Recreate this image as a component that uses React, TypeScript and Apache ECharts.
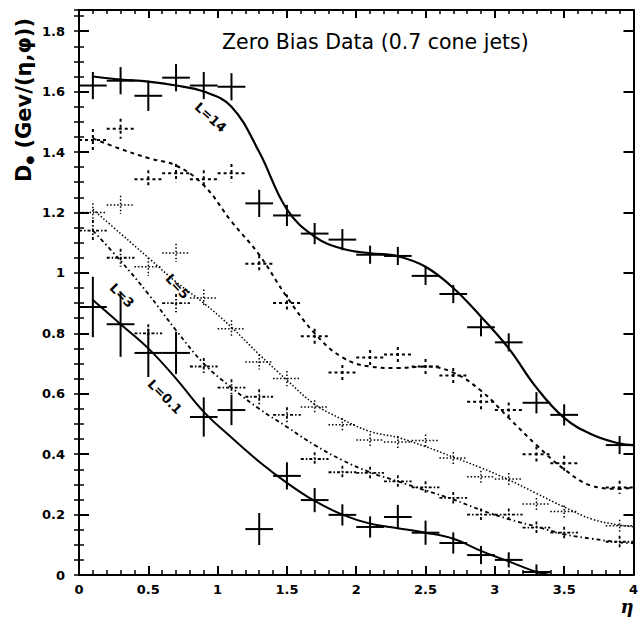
import React, { useEffect, useRef } from "react";
import * as echarts from "echarts";

// ---- data ----
const ETA = [0.1, 0.3, 0.5, 0.7, 0.9, 1.1, 1.3, 1.5, 1.7, 1.9, 2.1, 2.3, 2.5, 2.7, 2.9, 3.1, 3.3, 3.5, 3.9];
const ETA_LOW = [0.1, 0.3, 0.5, 0.7, 0.9, 1.1, 1.3, 1.5, 1.7, 1.9, 2.1, 2.3, 2.5, 2.7, 2.9, 3.1, 3.3];
const ETA_HALF_BIN = 0.1;

const L14_VALUES = [1.62, 1.636, 1.586, 1.646, 1.62, 1.616, 1.23, 1.19, 1.13, 1.11, 1.06, 1.056, 0.99, 0.93, 0.82, 0.77, 0.57, 0.53, 0.43];
const L14_ERRORS = [0.045, 0.045, 0.05, 0.045, 0.045, 0.045, 0.045, 0.035, 0.035, 0.035, 0.03, 0.03, 0.03, 0.03, 0.03, 0.03, 0.035, 0.035, 0.03];

const L10_VALUES = [1.44, 1.477, 1.31, 1.33, 1.31, 1.33, 1.03, 0.9, 0.79, 0.67, 0.72, 0.73, 0.69, 0.66, 0.573, 0.546, 0.4, 0.37, 0.29];
const L10_ERRORS = [0.036, 0.033, 0.03, 0.03, 0.03, 0.03, 0.028, 0.028, 0.025, 0.025, 0.025, 0.025, 0.025, 0.025, 0.025, 0.025, 0.025, 0.025, 0.022];

const L5_VALUES = [1.2, 1.225, 1.02, 1.066, 0.917, 0.815, 0.705, 0.65, 0.556, 0.497, 0.447, 0.44, 0.445, 0.387, 0.325, 0.318, 0.235, 0.21, 0.163];
const L5_ERRORS = [0.03, 0.03, 0.03, 0.03, 0.028, 0.028, 0.025, 0.025, 0.022, 0.022, 0.02, 0.02, 0.02, 0.02, 0.02, 0.02, 0.02, 0.02, 0.02];

const L3_VALUES = [1.14, 1.05, 0.8, 0.9, 0.69, 0.62, 0.59, 0.53, 0.384, 0.34, 0.338, 0.31, 0.29, 0.255, 0.2, 0.2, 0.157, 0.14, 0.11];
const L3_ERRORS = [0.035, 0.03, 0.03, 0.03, 0.028, 0.028, 0.025, 0.025, 0.022, 0.022, 0.02, 0.02, 0.02, 0.02, 0.02, 0.02, 0.02, 0.02, 0.02];

const L01_VALUES = [0.887, 0.83, 0.735, 0.735, 0.523, 0.546, 0.152, 0.328, 0.248, 0.199, 0.159, 0.192, 0.14, 0.106, 0.066, 0.05, 0.01];
const L01_ERRORS = [0.1, 0.108, 0.08, 0.07, 0.065, 0.05, 0.053, 0.045, 0.04, 0.035, 0.035, 0.04, 0.04, 0.035, 0.03, 0.025, 0.025];

// fitted curves
const FIT_ETA = [0.1, 0.3, 0.5, 0.7, 0.9, 1.1, 1.3, 1.5, 1.7, 1.9, 2.1, 2.3, 2.5, 2.7, 2.9, 3.1, 3.3, 3.5, 3.7, 3.9, 4.0];
const FIT_L14 = [1.65, 1.64, 1.633, 1.62, 1.6, 1.55, 1.4, 1.21, 1.12, 1.08, 1.065, 1.055, 1.02, 0.95, 0.855, 0.75, 0.62, 0.52, 0.465, 0.435, 0.43];
const FIT_L10 = [1.445, 1.41, 1.38, 1.355, 1.29, 1.17, 1.06, 0.92, 0.8, 0.72, 0.69, 0.685, 0.69, 0.67, 0.61, 0.52, 0.43, 0.35, 0.295, 0.285, 0.29];
const FIT_L5 = [1.21, 1.13, 1.05, 0.97, 0.9, 0.82, 0.73, 0.645, 0.565, 0.515, 0.475, 0.455, 0.425, 0.39, 0.355, 0.315, 0.27, 0.225, 0.185, 0.165, 0.16];
const FIT_L3 = [1.14, 1.04, 0.93, 0.81, 0.7, 0.62, 0.55, 0.49, 0.43, 0.38, 0.34, 0.31, 0.28, 0.25, 0.215, 0.185, 0.16, 0.135, 0.12, 0.108, 0.105];
const FIT_ETA_LOW = [0.1, 0.3, 0.5, 0.7, 0.9, 1.1, 1.3, 1.5, 1.7, 1.9, 2.1, 2.3, 2.5, 2.7, 2.9, 3.1, 3.3, 3.4];
const FIT_L01 = [0.91, 0.83, 0.75, 0.65, 0.54, 0.455, 0.375, 0.305, 0.245, 0.2, 0.17, 0.155, 0.14, 0.12, 0.08, 0.045, 0.01, 0.0];

const CURVE_LABELS = ["L=14", "L=5", "L=3", "L=0.1"];
const CURVE_LABEL_ETA = [0.95, 0.71, 0.31, 0.62];
const CURVE_LABEL_D = [1.515, 0.955, 0.925, 0.59];
const CURVE_LABEL_ANGLE = [42, 48, 45, 45];

const X_TICKS = [0, 0.5, 1, 1.5, 2, 2.5, 3, 3.5, 4];
const Y_MAX = 1.87;
const TITLE = "Zero Bias Data (0.7 cone jets)";

// ---- helpers ----
const zip = (xs: number[], ys: number[]) => xs.map((x, i) => [x, ys[i]]);
const crossRows = (xs: number[], ys: number[], es: number[]) => xs.map((x, i) => [x, ys[i], ETA_HALF_BIN, es[i]]);

function crossSeries(rows: number[][], lineWidth: number, dash: number[] | null) {
  return {
    type: "custom",
    data: rows,
    encode: { x: 0, y: 1 },
    clip: true,
    silent: true,
    z: 4,
    renderItem: (_p: any, api: any) => {
      const x = api.value(0), y = api.value(1), ex = api.value(2), ey = api.value(3);
      const l = api.coord([x - ex, y]);
      const r = api.coord([x + ex, y]);
      const t = api.coord([x, y + ey]);
      const b = api.coord([x, y - ey]);
      const style: any = { stroke: "#000", lineWidth, fill: null };
      if (dash) style.lineDash = dash;
      return {
        type: "group",
        children: [
          { type: "line", shape: { x1: l[0], y1: l[1], x2: r[0], y2: r[1] }, style },
          { type: "line", shape: { x1: t[0], y1: t[1], x2: b[0], y2: b[1] }, style },
        ],
      };
    },
  };
}

function fitSeries(xs: number[], ys: number[], width: number, type: any) {
  return {
    type: "line",
    data: zip(xs, ys),
    showSymbol: false,
    symbol: "none",
    smooth: 0.4,
    silent: true,
    z: 3,
    lineStyle: { color: "#000", width, type },
  };
}

const fmt = (v: number) => String(Math.round(v * 10) / 10);

export default function App() {
  const ref = useRef<HTMLDivElement>(null);
  useEffect(() => {
    if (!ref.current) return;
    const chart = echarts.init(ref.current, undefined, { renderer: "svg" });
    const axisLine = { show: true, onZero: false, lineStyle: { color: "#000", width: 2 } };
    const labelStyle = { color: "#000", fontFamily: "DejaVu Sans", fontWeight: "bold", fontSize: 13 };
    const xBase: any = {
      type: "value", min: 0, max: 4, interval: 0.5,
      splitLine: { show: false },
      axisLine,
      axisTick: { show: true, inside: true, length: 9, lineStyle: { color: "#000", width: 2 } },
      minorTick: { show: true, splitNumber: 5, length: 5, lineStyle: { color: "#000", width: 1.5 } },
      minorSplitLine: { show: false },
    };
    const yMajor = (pos: string, labels: boolean): any => ({
      type: "value", min: 0, max: Y_MAX, interval: 0.2, position: pos,
      splitLine: { show: false },
      axisLine,
      axisTick: { show: true, inside: true, length: 10, lineStyle: { color: "#000", width: 2 } },
      axisLabel: labels
        ? {
            ...labelStyle,
            margin: 14,
            formatter: (v: number) => (Math.abs(v / 0.2 - Math.round(v / 0.2)) < 1e-6 ? fmt(v) : ""),
          }
        : { show: false },
    });
    const yMinor = (pos: string): any => ({
      type: "value", min: 0, max: Y_MAX, interval: 0.05, position: pos,
      splitLine: { show: false },
      axisLine: { show: false },
      axisTick: { show: true, inside: true, length: 5, lineStyle: { color: "#000", width: 1.5 } },
      axisLabel: { show: false },
    });

    const option: any = {
      animation: false,
      backgroundColor: "#fff",
      title: {
        text: TITLE, left: 222, top: 31, padding: 0,
        textStyle: { fontFamily: "DejaVu Sans", fontSize: 20.5, fontWeight: "normal", color: "#000" },
      },
      grid: { left: 79, right: 4, top: 10, bottom: 43, containLabel: false },
      xAxis: [
        {
          ...xBase, position: "bottom",
          axisLabel: {
            ...labelStyle, margin: 8,
            formatter: (v: number) => (X_TICKS.some((t) => Math.abs(t - v) < 1e-9) ? fmt(v) : ""),
          },
        },
        { ...xBase, position: "top", axisLabel: { show: false }, axisTick: { ...xBase.axisTick, length: 8 }, minorTick: { ...xBase.minorTick, length: 4 } },
      ],
      yAxis: [yMajor("left", true), yMinor("left"), yMajor("right", false), yMinor("right")],
      graphic: [
        {
          type: "text", x: 24, y: 100, rotation: Math.PI / 2,
          style: {
            text: "{a|D}{b|●}{a| (Gev/(η,φ))}",
            align: "center", verticalAlign: "middle",
            rich: {
              a: { fontFamily: "DejaVu Sans", fontWeight: "bold", fontSize: 21, fill: "#000" },
              b: { fontFamily: "DejaVu Sans", fontWeight: "bold", fontSize: 10, fill: "#000", verticalAlign: "bottom", padding: [8, 0, 0, 0] },
            },
          },
        },
        {
          type: "text", x: 627, y: 606,
          style: { text: "η", font: "italic bold 18px 'DejaVu Serif'", fill: "#000", align: "center", verticalAlign: "middle" },
        },
      ],
      series: [
        fitSeries(FIT_ETA, FIT_L14, 2.2, "solid"),
        fitSeries(FIT_ETA, FIT_L10, 2, [4, 4]),
        fitSeries(FIT_ETA, FIT_L5, 1.5, [1.5, 2]),
        fitSeries(FIT_ETA, FIT_L3, 1.8, [4, 3, 1.5, 3]),
        fitSeries(FIT_ETA_LOW, FIT_L01, 2, "solid"),
        crossSeries(crossRows(ETA, L14_VALUES, L14_ERRORS), 2, null),
        crossSeries(crossRows(ETA_LOW, L01_VALUES, L01_ERRORS), 2, null),
        crossSeries(crossRows(ETA, L10_VALUES, L10_ERRORS), 2, [3, 3]),
        crossSeries(crossRows(ETA, L5_VALUES, L5_ERRORS), 1.5, [1.5, 2]),
        crossSeries(crossRows(ETA, L3_VALUES, L3_ERRORS), 1.8, [3, 2, 1.5, 2]),
        {
          type: "custom",
          data: CURVE_LABELS.map((t, i) => [CURVE_LABEL_ETA[i], CURVE_LABEL_D[i], CURVE_LABEL_ANGLE[i], i]),
          encode: { x: 0, y: 1 },
          silent: true,
          z: 5,
          renderItem: (_p: any, api: any) => {
            const p = api.coord([api.value(0), api.value(1)]);
            const ang = api.value(2);
            const idx = api.value(3);
            return {
              type: "text", x: p[0], y: p[1], rotation: (-ang * Math.PI) / 180,
              style: {
                text: CURVE_LABELS[idx], fill: "#000",
                font: "bold 13px 'DejaVu Sans'", align: "center", verticalAlign: "middle",
              },
            };
          },
        },
      ],
    };
    chart.setOption(option);
    return () => chart.dispose();
  }, []);
  return <div ref={ref} style={{ position: "absolute", left: 0, top: 0, width: 641, height: 618, background: "#fff" }} />;
}
